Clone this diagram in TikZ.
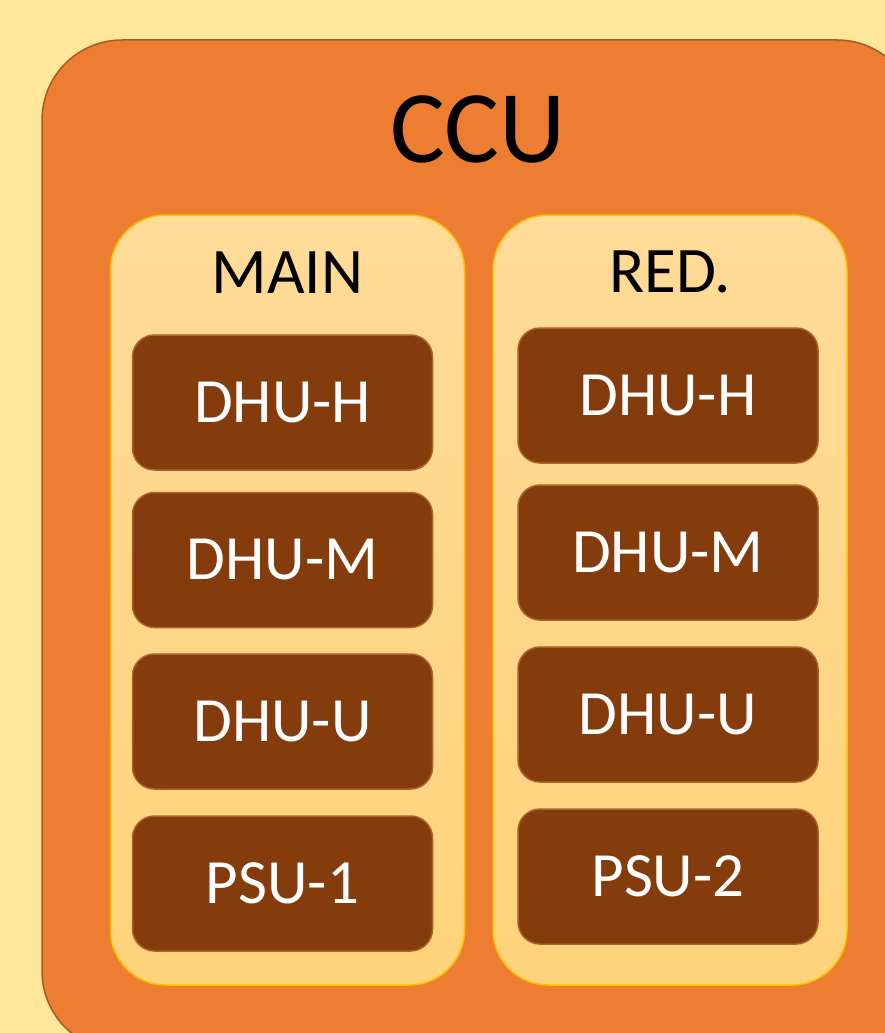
\documentclass[tikz,border=0pt]{standalone}
\usepackage{fontspec}
\setmainfont{Carlito}
\definecolor{bgc}{HTML}{FFE699}
\definecolor{orangec}{HTML}{ED7D31}
\definecolor{outerline}{HTML}{A65A28}
\definecolor{paneltop}{HTML}{FFDB98}
\definecolor{panelbot}{HTML}{FFD37A}
\definecolor{panelline}{HTML}{FFC000}
\definecolor{boxfill}{HTML}{843C0C}
\definecolor{boxline}{HTML}{AD5F2C}
\tikzset{
  outerbox/.style={draw=outerline, line width=1.5pt, fill=orangec, rounded corners=80pt, inner sep=0pt},
  panel/.style={draw=panelline, line width=1.5pt, top color=paneltop, bottom color=panelbot, rounded corners=55pt, inner sep=0pt, minimum width=354pt, minimum height=770pt},
  dbox/.style={draw=boxline, line width=1.5pt, fill=boxfill, rounded corners=22pt, inner sep=0pt, minimum width=300pt, minimum height=135pt, text=white, font=\fontsize{63}{70}\selectfont},
  ptitle/.style={anchor=base, inner sep=0pt, font=\fontsize{65}{72}\selectfont},
}
\begin{document}
\begin{tikzpicture}[x=1pt,y=-1pt]
\useasboundingbox (0,0) rectangle (885,1033);
\fill[bgc] (0,0) rectangle (885,1033);
\clip (0,0) rectangle (885,1033);
\node[outerbox, minimum width=875pt, minimum height=1011pt] (ccu) at (479.5,545.5) {};
\node[anchor=base, inner sep=0pt, font=\fontsize{103}{110}\selectfont] (ccut) at (478,162) {CCU};
\node[panel] (main) at (287.5,600) {};
\node[panel] (red) at (670,600) {};
\node[ptitle] (maint) at (287.5,293) {MAIN};
\node[ptitle] (redt) at (670,292) {RED.};
\node[dbox] (m1) at (282.5,402.5) {DHU-H};
\node[dbox] (m2) at (282.5,560) {DHU-M};
\node[dbox] (m3) at (282.5,721.5) {DHU-U};
\node[dbox] (m4) at (282.5,883.5) {PSU-1};
\node[dbox] (r1) at (668,395.5) {DHU-H};
\node[dbox] (r2) at (668,552.5) {DHU-M};
\node[dbox] (r3) at (668,714.5) {DHU-U};
\node[dbox] (r4) at (668,876.5) {PSU-2};
\end{tikzpicture}
\end{document}
